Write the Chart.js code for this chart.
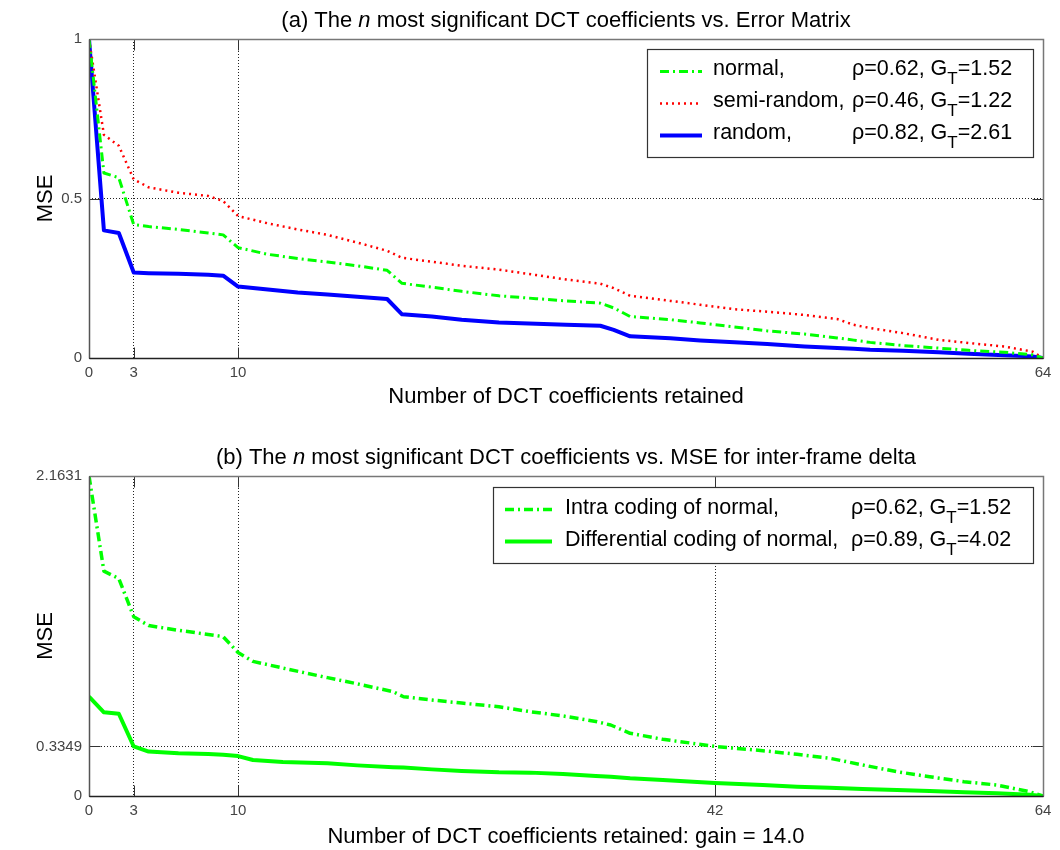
<!DOCTYPE html>
<html>
<head>
<meta charset="utf-8">
<script src="https://cdn.jsdelivr.net/npm/chart.js@4/dist/chart.umd.min.js"></script>
<style>
  html, body { margin: 0; padding: 0; background: #fff; }
  #wrap { position: relative; width: 1060px; height: 850px; }
  canvas { position: absolute; left: 0; }
  #chartA { top: 0; }
  #chartB { top: 425px; }
</style>
</head>
<body>
<div id="wrap">
  <canvas id="chartA" width="1060" height="425"></canvas>
  <canvas id="chartB" width="1060" height="425"></canvas>
</div>
<script>
// ---------- (a) MSE vs. number of retained coefficients, three error matrices ----------
const coeffsA = [0, 1, 2, 3, 4, 6, 8, 9, 10, 12, 14, 16, 18, 20, 21, 23, 25, 27.5, 30, 32,
                 34.3, 35.2, 36.3, 39, 41, 43.3, 45.5, 48, 50.2, 51.3, 52.4, 54.6, 57, 59, 61.4, 63.3, 64];
const mseNormal = [1.000, 0.580, 0.565, 0.418, 0.412, 0.403, 0.392, 0.386, 0.346, 0.325,
                   0.312, 0.301, 0.289, 0.275, 0.234, 0.222, 0.209, 0.195, 0.186, 0.179,
                   0.172, 0.157, 0.130, 0.120, 0.110, 0.097, 0.085, 0.075, 0.063, 0.056,
                   0.049, 0.039, 0.031, 0.024, 0.018, 0.010, 0.000];
const mseSemiRandom = [1.000, 0.700, 0.665, 0.560, 0.535, 0.518, 0.508, 0.492, 0.445, 0.422,
                       0.403, 0.386, 0.362, 0.336, 0.314, 0.302, 0.289, 0.277, 0.260, 0.246,
                       0.233, 0.219, 0.195, 0.179, 0.167, 0.153, 0.145, 0.135, 0.122, 0.104,
                       0.094, 0.078, 0.057, 0.047, 0.036, 0.020, 0.000];
const mseRandom = [1.000, 0.400, 0.392, 0.268, 0.266, 0.264, 0.261, 0.258, 0.224, 0.215,
                   0.205, 0.199, 0.192, 0.185, 0.137, 0.130, 0.120, 0.111, 0.107, 0.104,
                   0.101, 0.088, 0.068, 0.062, 0.055, 0.049, 0.044, 0.036, 0.031, 0.029,
                   0.026, 0.023, 0.018, 0.013, 0.009, 0.005, 0.000];
const xTicksA = [0, 3, 10, 64];
const yTicksA = [0, 0.5, 1];
const yTickLabelsA = ['0', '0.5', '1'];
const legendNamesA = ['normal,', 'semi-random,', 'random,'];
const legendRhoA = ['0.62', '0.46', '0.82'];
const legendGainA = ['1.52', '1.22', '2.61'];

// ---------- (b) intra vs. differential coding of the inter-frame delta ----------
const coeffsB = [0, 1, 2, 3, 4, 6, 8, 9, 10, 11, 13, 16, 18, 20.4, 21.1, 23, 25, 27.5, 29.6, 31.8,
                 34, 35, 36.3, 38.5, 40.8, 42, 45.2, 47.5, 49.7, 51.9, 54.2, 56.4, 58.7, 60.9, 63.1, 64];
const mseIntra = [2.1631, 1.520, 1.470, 1.212, 1.152, 1.120, 1.092, 1.077, 0.970, 0.910,
                  0.865, 0.800, 0.758, 0.705, 0.671, 0.649, 0.628, 0.603, 0.570, 0.541,
                  0.504, 0.480, 0.424, 0.383, 0.352, 0.3349, 0.306, 0.282, 0.255, 0.210,
                  0.164, 0.130, 0.097, 0.074, 0.029, 0.000];
const mseDifferential = [0.671, 0.566, 0.556, 0.3349, 0.300, 0.289, 0.284, 0.279, 0.270, 0.243,
                         0.230, 0.221, 0.207, 0.195, 0.192, 0.180, 0.169, 0.160, 0.158, 0.149,
                         0.136, 0.130, 0.120, 0.108, 0.095, 0.088, 0.074, 0.063, 0.056, 0.047,
                         0.041, 0.034, 0.025, 0.018, 0.009, 0.000];
const xTicksB = [0, 3, 10, 42, 64];
const yTicksB = [0, 0.3349, 2.1631];
const yTickLabelsB = ['0', '0.3349', '2.1631'];
const legendNamesB = ['Intra coding of normal,', 'Differential coding of normal,'];
const legendRhoB = ['0.62', '0.89'];
const legendGainB = ['1.52', '4.02'];

// ---------- drawing helpers ----------
const FONT = '"Liberation Sans", Arial, Helvetica, sans-serif';
Chart.defaults.font.family = FONT;
Chart.defaults.color = '#000';

const points = (xs, ys) => xs.map((x, i) => ({x: x, y: ys[i]}));

function drawFrame(chart) {
  const ctx = chart.ctx, a = chart.chartArea;
  const xs = chart.scales.x, ys = chart.scales.y;
  const L = Math.round(a.left) + 0.5, R = Math.round(a.right) + 0.5;
  const T = Math.round(a.top) + 0.5, B = Math.round(a.bottom) + 0.5;
  ctx.save();
  // inward tick marks on all four sides
  ctx.strokeStyle = '#333';
  ctx.lineWidth = 1;
  ctx.beginPath();
  xs.ticks.forEach(t => {
    const px = Math.round(xs.getPixelForValue(t.value)) + 0.5;
    ctx.moveTo(px, B); ctx.lineTo(px, B - 11);
    ctx.moveTo(px, T); ctx.lineTo(px, T + 11);
  });
  ys.ticks.forEach(t => {
    const py = Math.round(ys.getPixelForValue(t.value)) + 0.5;
    ctx.moveTo(L, py); ctx.lineTo(L + 11, py);
    ctx.moveTo(R, py); ctx.lineTo(R - 11, py);
  });
  ctx.stroke();
  // axes box
  ctx.lineWidth = 1.5;
  ctx.strokeStyle = '#777';
  ctx.beginPath();
  ctx.moveTo(L, T); ctx.lineTo(R, T); ctx.lineTo(R, B);
  ctx.stroke();
  ctx.strokeStyle = '#555';
  ctx.beginPath();
  ctx.moveTo(L, T); ctx.lineTo(L, B);
  ctx.stroke();
  ctx.strokeStyle = '#222';
  ctx.beginPath();
  ctx.moveTo(L, B); ctx.lineTo(R, B);
  ctx.stroke();
  ctx.restore();
}

function drawTitle(chart, cfg) {
  const ctx = chart.ctx;
  ctx.save();
  ctx.fillStyle = '#000';
  ctx.textBaseline = 'alphabetic';
  ctx.textAlign = 'left';
  const fontOf = p => (p.italic ? 'italic ' : '') + '22px ' + FONT;
  let total = 0;
  cfg.parts.forEach(p => { ctx.font = fontOf(p); total += ctx.measureText(p.text).width; });
  let x = cfg.cx - total / 2;
  cfg.parts.forEach(p => {
    ctx.font = fontOf(p);
    ctx.fillText(p.text, x, cfg.baseline);
    x += ctx.measureText(p.text).width;
  });
  ctx.restore();
}

function drawLegend(chart, cfg) {
  const ctx = chart.ctx;
  const [x0, y0, x1, y1] = cfg.box;
  const main = '21.5px ' + FONT, sub = '17px ' + FONT;
  ctx.save();
  ctx.fillStyle = '#fff';
  ctx.fillRect(x0, y0, x1 - x0, y1 - y0);
  ctx.strokeStyle = '#333';
  ctx.lineWidth = 1.2;
  ctx.strokeRect(Math.round(x0) + 0.5, Math.round(y0) + 0.5, Math.round(x1 - x0), Math.round(y1 - y0));
  chart.data.datasets.forEach((ds, i) => {
    const base = cfg.baseline0 + i * cfg.rowGap;
    const ly = base - cfg.lineLift;
    ctx.save();
    ctx.setLineDash(ds.borderDash || []);
    ctx.lineWidth = ds.borderWidth;
    ctx.strokeStyle = ds.borderColor;
    ctx.beginPath();
    ctx.moveTo(cfg.sample[0], ly);
    ctx.lineTo(cfg.sample[1], ly);
    ctx.stroke();
    ctx.restore();
    ctx.fillStyle = '#000';
    ctx.textBaseline = 'alphabetic';
    ctx.textAlign = 'left';
    ctx.font = main;
    ctx.fillText(cfg.names[i], cfg.nameX, base);
    let x = cfg.statX;
    const head = '\u03c1=' + cfg.rho[i] + ', G';
    ctx.fillText(head, x, base);
    x += ctx.measureText(head).width;
    ctx.font = sub;
    ctx.fillText('T', x, base + 9);
    x += ctx.measureText('T').width;
    ctx.font = main;
    ctx.fillText('=' + cfg.gain[i], x, base);
  });
  ctx.restore();
}

function figurePlugin(cfg) {
  return {
    id: 'figure',
    afterDatasetsDraw(chart) { drawFrame(chart); },
    afterDraw(chart) {
      drawTitle(chart, cfg.title);
      drawLegend(chart, cfg.legend);
    }
  };
}

function buildOptions(o) {
  return {
    responsive: false,
    animation: false,
    devicePixelRatio: 1,
    layout: {padding: {top: o.padTop, right: 17, left: 0, bottom: 0}},
    plugins: {legend: {display: false}, tooltip: {enabled: false}, title: {display: false}},
    elements: {point: {radius: 0}, line: {tension: 0, borderCapStyle: 'butt', borderJoinStyle: 'round'}},
    scales: {
      x: {
        type: 'linear',
        min: 0,
        max: 64,
        afterBuildTicks: s => { s.ticks = o.xTicks.map(v => ({value: v})); },
        afterFit: s => { s.height = o.xAxisHeight; },
        ticks: {
          autoSkip: false, maxRotation: 0, padding: 6,
          color: '#444', font: {size: 15},
          callback: v => String(v)
        },
        grid: {color: '#222', lineWidth: 1, drawTicks: false},
        border: {display: false, dash: [1, 2]},
        title: {display: true, text: o.xTitle, font: {size: 22}, color: '#000', padding: {top: 0, bottom: o.xTitlePad}}
      },
      y: {
        type: 'linear',
        min: 0,
        max: o.yMax,
        afterBuildTicks: s => { s.ticks = o.yTicks.map(v => ({value: v})); },
        afterFit: s => { s.width = 89; },
        ticks: {
          autoSkip: false, padding: 7,
          color: '#444', font: {size: 15},
          callback: (v, i) => o.yLabels[i]
        },
        grid: {color: '#222', lineWidth: 1, drawTicks: false},
        border: {display: false, dash: [1, 2]},
        title: {display: true, text: 'MSE', font: {size: 22}, color: '#000', padding: {top: 33, bottom: 0}}
      }
    }
  };
}

// ---------- chart (a) ----------
new Chart(document.getElementById('chartA'), {
  type: 'line',
  data: {
    datasets: [
      {label: 'normal', data: points(coeffsA, mseNormal), borderColor: '#00ff00', borderWidth: 3, borderDash: [9, 4, 2, 4]},
      {label: 'semi-random', data: points(coeffsA, mseSemiRandom), borderColor: '#ff0000', borderWidth: 2.5, borderDash: [2, 4]},
      {label: 'random', data: points(coeffsA, mseRandom), borderColor: '#0000ff', borderWidth: 4}
    ]
  },
  options: buildOptions({
    padTop: 39, xAxisHeight: 67, xTitlePad: 15, yMax: 1,
    xTicks: xTicksA, yTicks: yTicksA, yLabels: yTickLabelsA,
    xTitle: 'Number of DCT coefficients retained'
  }),
  plugins: [figurePlugin({
    title: {cx: 566, baseline: 26.5, parts: [
      {text: '(a) The '}, {text: 'n', italic: true}, {text: ' most significant DCT coefficients vs. Error Matrix'}
    ]},
    legend: {
      box: [646.5, 49, 1032.5, 157], sample: [660, 702], nameX: 713, statX: 852,
      baseline0: 74.5, rowGap: 32, lineLift: 3,
      names: legendNamesA, rho: legendRhoA, gain: legendGainA
    }
  })]
});

// ---------- chart (b) ----------
new Chart(document.getElementById('chartB'), {
  type: 'line',
  data: {
    datasets: [
      {label: 'Intra coding of normal', data: points(coeffsB, mseIntra), borderColor: '#00ff00', borderWidth: 3.5, borderDash: [9, 4, 2, 4]},
      {label: 'Differential coding of normal', data: points(coeffsB, mseDifferential), borderColor: '#00ff00', borderWidth: 4}
    ]
  },
  options: buildOptions({
    padTop: 51, xAxisHeight: 54, xTitlePad: 0, yMax: 2.1631,
    xTicks: xTicksB, yTicks: yTicksB, yLabels: yTickLabelsB,
    xTitle: 'Number of DCT coefficients retained: gain = 14.0'
  }),
  plugins: [figurePlugin({
    title: {cx: 566, baseline: 38.5, parts: [
      {text: '(b) The '}, {text: 'n', italic: true}, {text: ' most significant DCT coefficients vs. MSE for inter-frame delta'}
    ]},
    legend: {
      box: [492.5, 62, 1032.5, 138], sample: [505, 552], nameX: 565, statX: 851,
      baseline0: 88.5, rowGap: 32, lineLift: 4,
      names: legendNamesB, rho: legendRhoB, gain: legendGainB
    }
  })]
});
</script>
</body>
</html>
